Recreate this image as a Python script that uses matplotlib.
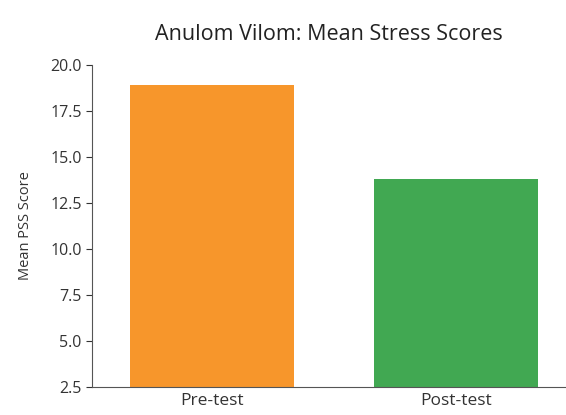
import matplotlib
matplotlib.use("Agg")
import matplotlib.pyplot as plt

plt.rcParams['font.family'] = ['Open Sans', 'DejaVu Sans']

phases = ['Pre-test', 'Post-test']
mean_scores = [18.9, 13.8]
bar_colors = ['#f7962b', '#41a852']

fig = plt.figure(figsize=(5.66, 4.15), dpi=100)
ax = fig.add_axes([92 / 566, 1 - 387 / 415, (566 - 92) / 566, (387 - 65) / 415])

ax.bar(range(len(phases)), mean_scores, width=0.67, color=bar_colors, bottom=0)
ax.set_ylim(2.5, 20.0)
ax.set_xlim(-0.49, 1.45)
ax.set_yticks([2.5, 5.0, 7.5, 10.0, 12.5, 15.0, 17.5, 20.0])
ax.set_xticks(range(len(phases)))
ax.set_xticklabels(phases)
ax.tick_params(axis='x', length=0, labelsize=12.5, pad=4, colors='#333333')
ax.tick_params(axis='y', length=4, labelsize=11.5, colors='#333333')
ax.set_ylabel('Mean PSS Score', fontsize=10.5, color='#333333', labelpad=12)
ax.set_title('Anulom Vilom: Mean Stress Scores', fontsize=15.5, color='#222222', pad=18)

for s in ['top', 'right']:
    ax.spines[s].set_visible(False)
for s in ['left', 'bottom']:
    ax.spines[s].set_color('#555555')

fig.savefig('out.png', dpi=100)
